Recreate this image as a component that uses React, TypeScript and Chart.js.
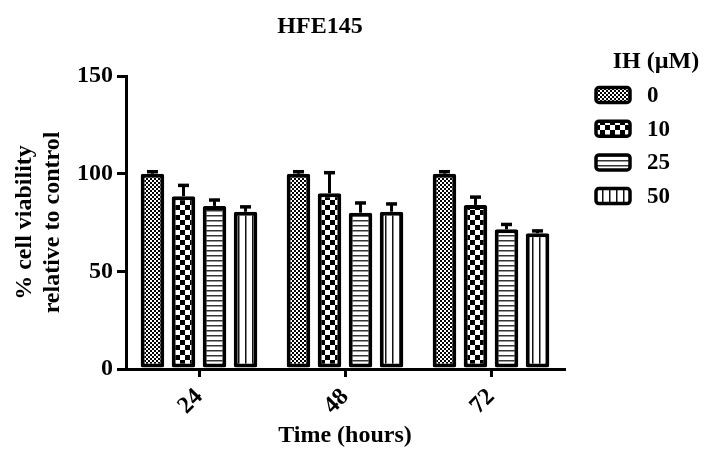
import React, { useEffect, useRef } from 'react';
import { Chart, registerables } from 'chart.js';

Chart.register(...registerables);

const chartTitle = 'HFE145';
const categories = ['24', '48', '72'];
const seriesNames = ['0', '10', '25', '50'];
const legendTitle = 'IH (µM)';
const values0 = [100, 100, 100];
const values10 = [88.5, 90, 84];
const values25 = [83.5, 80, 71.5];
const values50 = [80.5, 80.5, 69.5];
const errors0 = [1, 1, 1];
const errors10 = [5.5, 10.5, 4];
const errors25 = [3, 5, 2.5];
const errors50 = [2.5, 4, 1.2];
const yMin = 0;
const yMax = 150;
const yStep = 50;
const xTitle = 'Time (hours)';
const yTitle = ['% cell viability', 'relative to control'];

const seriesValues = [values0, values10, values25, values50];
const seriesErrors = [errors0, errors10, errors25, errors50];
const patternKinds = ['fine', 'coarse', 'hlines', 'vlines'];

const FONT = '"Liberation Serif", "Times New Roman", serif';

function makePattern(ctx: CanvasRenderingContext2D, kind: string): CanvasPattern | string {
  const c = document.createElement('canvas');
  const g = c.getContext('2d')!;
  if (kind === 'fine') {
    c.width = 4; c.height = 4;
    g.fillStyle = '#fff'; g.fillRect(0, 0, 4, 4);
    g.fillStyle = '#000'; g.fillRect(0, 0, 2, 2); g.fillRect(2, 2, 2, 2);
  } else if (kind === 'coarse') {
    c.width = 10; c.height = 10;
    g.fillStyle = '#fff'; g.fillRect(0, 0, 10, 10);
    g.fillStyle = '#000'; g.fillRect(0, 0, 5, 5); g.fillRect(5, 5, 5, 5);
  } else if (kind === 'hlines') {
    c.width = 5; c.height = 5;
    g.fillStyle = '#fff'; g.fillRect(0, 0, 5, 5);
    g.fillStyle = '#333'; g.fillRect(0, 0, 5, 1.5);
  } else {
    c.width = 7; c.height = 7;
    g.fillStyle = '#fff'; g.fillRect(0, 0, 7, 7);
    g.fillStyle = '#111'; g.fillRect(0, 0, 1.5, 7);
  }
  return ctx.createPattern(c, 'repeat') || '#fff';
}

export default function App() {
  const ref = useRef<HTMLCanvasElement | null>(null);

  useEffect(() => {
    const canvas = ref.current!;
    const ctx = canvas.getContext('2d')!;
    const patterns = patternKinds.map((k) => makePattern(ctx, k));

    const errorBarPlugin = {
      id: 'errorBars',
      afterDatasetsDraw(chart: any) {
        const c = chart.ctx;
        const y = chart.scales.y;
        chart.data.datasets.forEach((ds: any, di: number) => {
          const meta = chart.getDatasetMeta(di);
          meta.data.forEach((bar: any, i: number) => {
            const v = ds.data[i];
            const e = seriesErrors[di][i];
            const top = y.getPixelForValue(v);
            const yt = y.getPixelForValue(v + e);
            c.save();
            c.strokeStyle = '#000';
            c.lineWidth = 3;
            c.lineCap = 'butt';
            c.beginPath();
            c.moveTo(bar.x, top);
            c.lineTo(bar.x, yt);
            c.stroke();
            c.lineWidth = 3.5;
            c.beginPath();
            c.moveTo(bar.x - 5.5, yt);
            c.lineTo(bar.x + 5.5, yt);
            c.stroke();
            c.restore();
          });
        });
      },
    };

    const decorPlugin = {
      id: 'decor',
      afterDraw(chart: any) {
        const c = chart.ctx;
        c.save();
        c.fillStyle = '#000';
        c.font = `bold 24px ${FONT}`;
        c.textAlign = 'center';
        c.textBaseline = 'middle';
        c.fillText(chartTitle, 320, 27);
        c.fillText(legendTitle, 656, 62);
        seriesNames.forEach((name, i) => {
          const cy = 95 + i * 33.7;
          const bx = 596, bw = 34, bh = 15;
          c.beginPath();
          c.roundRect(bx, cy - bh / 2, bw, bh, 3);
          c.fillStyle = patterns[i] as any;
          c.fill();
          c.lineWidth = 3.5;
          c.strokeStyle = '#000';
          c.stroke();
          c.fillStyle = '#000';
          c.textAlign = 'left';
          c.font = `bold 23px ${FONT}`;
          c.fillText(name, 647, cy + 1);
        });
        c.restore();
      },
    };

    const chart = new Chart(canvas, {
      type: 'bar',
      data: {
        labels: categories,
        datasets: seriesNames.map((name, i) => ({
          label: name,
          data: seriesValues[i],
          backgroundColor: patterns[i] as any,
          borderColor: '#000',
          borderWidth: 4,
          borderSkipped: false,
          borderRadius: 2,
          categoryPercentage: 0.85,
          barPercentage: 0.76,
        })),
      },
      options: {
        animation: false,
        responsive: false,
        maintainAspectRatio: false,
        layout: { padding: { left: 0, right: 140, top: 76, bottom: 0 } },
        plugins: {
          legend: { display: false },
          title: { display: false },
          tooltip: { enabled: false },
        },
        scales: {
          x: {
            afterFit: (s: any) => { s.height = 81; },
            grid: { display: true, drawOnChartArea: false, drawTicks: true, tickLength: 8, lineWidth: 3, color: '#000', offset: false },
            border: { display: true, color: '#000', width: 3 },
            ticks: {
              color: '#000',
              font: { family: FONT, size: 24, weight: 'bold' },
              minRotation: 45,
              maxRotation: 45,
              autoSkip: false,
              padding: 6,
            },
            title: {
              display: true,
              text: xTitle,
              color: '#000',
              font: { family: FONT, size: 24, weight: 'bold' },
              padding: { top: 0, bottom: 0 },
            },
          },
          y: {
            min: yMin,
            max: yMax,
            afterFit: (s: any) => { s.width = 126; },
            grid: { display: true, drawOnChartArea: false, drawTicks: true, tickLength: 9, lineWidth: 3, color: '#000' },
            border: { display: true, color: '#000', width: 3 },
            ticks: {
              stepSize: yStep,
              color: '#000',
              font: { family: FONT, size: 24, weight: 'bold' },
              padding: 4,
            },
            title: {
              display: true,
              text: yTitle,
              color: '#000',
              font: { family: FONT, size: 24, weight: 'bold', lineHeight: 1.2 },
              padding: { top: 10, bottom: 0 },
            },
          },
        },
      },
      plugins: [errorBarPlugin, decorPlugin],
    });
    return () => chart.destroy();
  }, []);

  return (
    <div style={{ position: 'fixed', left: 0, top: 0, width: 704, height: 450, background: '#fff' }}>
      <canvas ref={ref} width={704} height={450} style={{ display: 'block', width: 704, height: 450 }} />
    </div>
  );
}
